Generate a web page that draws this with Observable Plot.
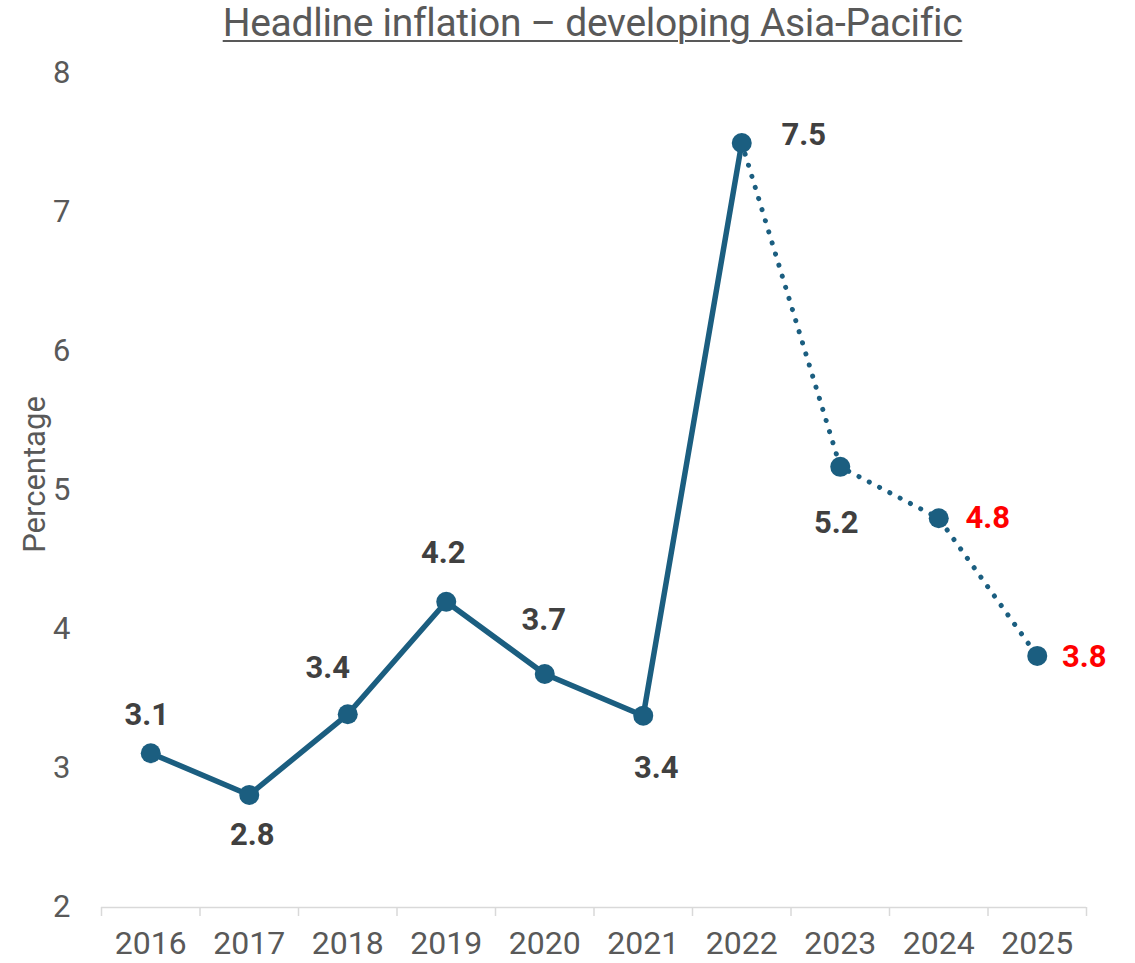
<!DOCTYPE html>
<html>
<head>
<meta charset="utf-8">
<script src="https://cdn.jsdelivr.net/npm/d3@7"></script>
<script src="https://cdn.jsdelivr.net/npm/@observablehq/plot@0.6"></script>
<style>
  body { margin: 0; background: #fff; font-family: Roboto, "Liberation Sans", sans-serif; }
  #title { height: 48px; text-align: center; font-size: 39px; color: #595959; line-height: 46px; letter-spacing: -0.3px; padding-left: 50px; box-sizing: border-box; width: 1135px; }
  #title span { text-decoration: underline; text-decoration-thickness: 1.5px; text-underline-offset: 4px; }
  #chart svg { display: block; }
</style>
</head>
<body>
<div id="title"><span>Headline inflation – developing Asia-Pacific</span></div>
<div id="chart"></div>
<script>
// Data
const years = [2016, 2017, 2018, 2019, 2020, 2021, 2022, 2023, 2024, 2025];
const values = [3.11, 2.81, 3.39, 4.2, 3.68, 3.38, 7.5, 5.17, 4.8, 3.81];
const labels = ["3.1", "2.8", "3.4", "4.2", "3.7", "3.4", "7.5", "5.2", "4.8", "3.8"];
const forecastStart = 2022;           // dotted line from here on
const highlightedYears = [2024, 2025]; // labels in red
const yTicks = [2, 3, 4, 5, 6, 7, 8];

// Label placement (offsets in px relative to each point)
const labelOffsets = [[-4, -38], [3, 40], [-20, -46], [-3, -49], [-1, -54], [13, 52], [62, -8], [-4, 56], [49, 0], [47, 1]];

const rows = years.map((year, i) => ({
  year, value: values[i], label: labels[i],
  dx: labelOffsets[i][0], dy: labelOffsets[i][1],
  red: highlightedYears.includes(year)
}));

const boundaries = years.map(y => y - 0.5).concat([years[years.length - 1] + 0.5]);
const lineColor = "#1b5e80";

const labelMarks = rows.map(r => Plot.text([r], {
  x: "year", y: "value", text: "label",
  dx: r.dx, dy: r.dy,
  fill: r.red ? "#ff0000" : "#404040",
  fontSize: 31, fontWeight: "bold"
}));

const chart = Plot.plot({
  width: 1135,
  height: 915,
  marginTop: 25,
  marginBottom: 56,
  marginLeft: 101,
  marginRight: 49,
  style: { fontFamily: "Roboto, 'Liberation Sans', sans-serif", color: "#595959", background: "#fff" },
  x: { domain: [boundaries[0], boundaries[boundaries.length - 1]] },
  y: { domain: [2, 8] },
  marks: [
    Plot.axisY({ ticks: yTicks, tickSize: 0, tickPadding: 31, fontSize: 31, label: null, tickFormat: d => d, fill: "#595959" }),
    Plot.text(["Percentage"], { frameAnchor: "left", textAnchor: "middle", rotate: -90, dx: -66, dy: -16, fontSize: 31, fill: "#595959" }),
    Plot.ruleY([2], { stroke: "#d9d9d9", strokeWidth: 1.5 }),
    Plot.axisX({ ticks: boundaries, tickSize: 9, stroke: "#d9d9d9", strokeWidth: 1.5, tickFormat: () => "", label: null }),
    Plot.axisX({ ticks: years, tickSize: 0, tickPadding: 24, fontSize: 32, tickFormat: d => String(d), label: null, fill: "#595959" }),
    Plot.line(rows.filter(r => r.year <= forecastStart), { x: "year", y: "value", stroke: lineColor, strokeWidth: 5.5, strokeLinejoin: "round" }),
    Plot.line(rows.filter(r => r.year >= forecastStart), { x: "year", y: "value", stroke: lineColor, strokeWidth: 5, strokeDasharray: "0.1 11.5", strokeLinecap: "round" }),
    Plot.dot(rows, { x: "year", y: "value", r: 10, fill: lineColor }),
    ...labelMarks
  ]
});
document.getElementById("chart").appendChild(chart);
</script>
</body>
</html>
